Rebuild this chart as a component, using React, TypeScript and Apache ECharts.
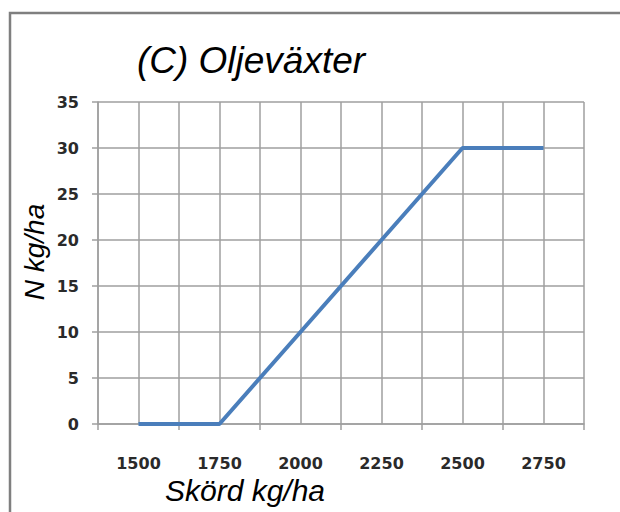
import React, { useEffect, useRef } from "react";
import * as echarts from "echarts";

const categories = [1500, 1750, 2000, 2250, 2500, 2750];
const nValues = [0, 0, 10, 20, 30, 30];
const yTicks = [0, 5, 10, 15, 20, 25, 30, 35];

const titleText = "(C) Oljeväxter";
const yName = "N kg/ha";
const xName = "Skörd kg/ha";

export default function App() {
  const ref = useRef<HTMLDivElement>(null);
  useEffect(() => {
    if (!ref.current) return;
    const chart = echarts.init(ref.current, null, { renderer: "svg" });
    const gridColor = "#9f9f9f";
    chart.setOption({
      animation: false,
      backgroundColor: "#ffffff",
      grid: { left: 98, right: 36, top: 102, bottom: 88 },
      xAxis: [
        {
          type: "value",
          min: 1375,
          max: 2875,
          interval: 125,
          axisLine: { show: true, lineStyle: { color: gridColor, width: 1.5 } },
          axisTick: { show: false },
          splitLine: { show: true, lineStyle: { color: gridColor, width: 1.5 } },
          axisLabel: {
            margin: 31,
            fontFamily: "DejaVu Sans",
            fontWeight: "bold",
            fontSize: 16,
            color: "#2a2a2a",
            formatter: (v: number) => (categories.includes(v) ? String(v) : ""),
          },
        },
        {
          type: "category",
          position: "bottom",
          data: categories.map(String),
          boundaryGap: true,
          axisLine: { show: false },
          axisTick: { show: true, length: 6, lineStyle: { color: gridColor, width: 1.5 } },
          axisLabel: { show: false },
          splitLine: { show: false },
        },
      ],
      yAxis: {
        type: "value",
        min: yTicks[0],
        max: yTicks[yTicks.length - 1],
        interval: 5,
        axisLine: { show: true, lineStyle: { color: gridColor, width: 1.5 } },
        axisTick: { show: true, length: 6, lineStyle: { color: gridColor, width: 1.5 } },
        splitLine: { show: true, lineStyle: { color: gridColor, width: 1.5 } },
        axisLabel: {
          margin: 19,
          fontFamily: "DejaVu Sans",
          fontWeight: "bold",
          fontSize: 16,
          color: "#2a2a2a",
        },
      },
      series: [
        {
          type: "line",
          xAxisIndex: 0,
          data: categories.map((c, i) => [c, nValues[i]]),
          showSymbol: false,
          symbol: "none",
          lineStyle: { color: "#4a7ebb", width: 4 },
        },
      ],
      graphic: [
        {
          type: "rect",
          shape: { x: 10, y: 13, width: 640, height: 560 },
          style: { fill: "none", stroke: "#7f7f7f", lineWidth: 2.5 },
          silent: true,
        },
        {
          type: "text",
          x: 251,
          y: 60,
          style: {
            text: titleText,
            fontFamily: "Liberation Sans",
            fontStyle: "italic",
            fontSize: 37,
            fill: "#000000",
            textAlign: "center",
            textVerticalAlign: "middle",
          },
        },
        {
          type: "text",
          x: 34,
          y: 252,
          rotation: Math.PI / 2,
          style: {
            text: yName,
            fontFamily: "Liberation Sans",
            fontStyle: "italic",
            fontSize: 28,
            fill: "#000000",
            textAlign: "center",
            textVerticalAlign: "middle",
          },
        },
        {
          type: "text",
          x: 245,
          y: 490,
          style: {
            text: xName,
            fontFamily: "Liberation Sans",
            fontStyle: "italic",
            fontSize: 30,
            fill: "#000000",
            textAlign: "center",
            textVerticalAlign: "middle",
          },
        },
      ],
    });
    return () => chart.dispose();
  }, []);
  return (
    <div
      ref={ref}
      style={{ position: "absolute", left: 0, top: 0, width: 620, height: 512 }}
    />
  );
}
